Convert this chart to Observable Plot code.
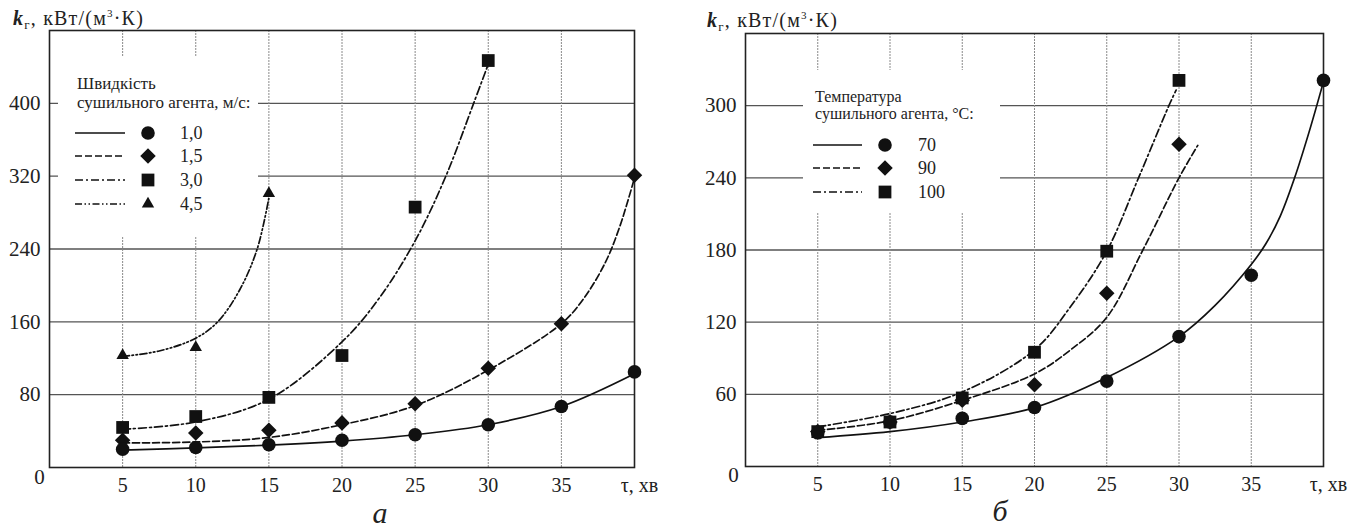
<!DOCTYPE html>
<html><head><meta charset="utf-8">
<script src="https://cdn.jsdelivr.net/npm/d3@7"></script>
<script src="https://cdn.jsdelivr.net/npm/@observablehq/plot@0.6"></script>
<style>
body{margin:0;background:#fff}
#wrap{position:relative;width:1363px;height:531px;overflow:hidden;background:#fff;
  font-family:"Liberation Serif","Tinos","Times New Roman","DejaVu Serif",serif}
#wrap svg, #wrap svg text{font-family:"Liberation Serif","Tinos","Times New Roman","DejaVu Serif",serif !important}
</style>
</head><body><div id="wrap"></div>
<script>
// ---------- data: panel а (speed of drying agent) ----------
const tauA10 = [5, 10, 15, 20, 25, 30, 35, 40];
const kA10   = [20, 22, 25, 30, 36, 47, 67, 105];
const tauA15 = [5, 10, 15, 20, 25, 30, 35, 40];
const kA15   = [30, 38, 41, 49, 70, 109, 158, 321];
const tauA30 = [5, 10, 15, 20, 25, 30];
const kA30   = [44, 56, 77, 123, 286, 447];
const tauA45 = [5, 10, 15];
const kA45   = [123, 132, 301];
// fitted curves
const fitTauA10 = [5, 10, 15, 20, 25, 30, 35, 40];
const fitKA10   = [19, 21.5, 24.5, 29, 36, 47, 67, 103];
const fitTauA15 = [5, 10, 15, 20, 25, 30, 35, 36.5, 38, 39, 40];
const fitKA15   = [27, 28, 33, 47, 68, 107, 158, 185, 225, 265, 318];
const fitTauA30 = [5, 10, 15, 20, 22.5, 25, 27.1, 29, 30];
const fitKA30   = [42, 50, 75, 138, 185, 249, 320, 400, 443];
const fitTauA45 = [5, 7.5, 10, 11.5, 13, 14.2, 15];
const fitKA45   = [122, 128, 142, 160, 195, 240, 296];

// ---------- data: panel б (temperature of drying agent) ----------
const tauB70  = [5, 10, 15, 20, 25, 30, 35, 40];
const kB70    = [28, 37, 40, 49, 71, 108, 159, 321];
const tauB100 = [5, 10, 15, 20, 25, 30];
const kB100   = [29, 37, 57, 95, 179, 321];
const tauB90  = [5, 10, 15, 20, 25, 30];
const kB90    = [29, 37, 55, 68, 144, 268];
const fitTauB70  = [5, 10, 15, 20, 25, 30, 32.5, 35, 36, 37, 38, 39, 40];
const fitKB70    = [24, 29, 37, 49, 74, 108, 134, 168, 185, 208, 240, 278, 320];
const fitTauB90  = [5, 10, 15, 20, 22.5, 25, 27.5, 30, 31.3];
const fitKB90    = [30, 38, 55, 77, 97, 124, 180, 240, 267];
const fitTauB100 = [5, 10, 15, 20, 22.5, 25, 27.2, 29.3, 29.8];
const fitKB100   = [33, 44, 62, 97, 133, 179, 240, 300, 313];

// ---------- ticks & labels ----------
const xTicks  = [5, 10, 15, 20, 25, 30, 35];
const yTicksA = [80, 160, 240, 320, 400];
const yTicksB = [60, 120, 180, 240, 300];
const zeroLabel = "0";
const xAxisLabel = "τ, хв";
const legendTitleA = ["Швидкість", "сушильного агента, м/с:"];
const legendLabelsA = ["1,0", "1,5", "3,0", "4,5"];
const legendTitleB = ["Температура", "сушильного агента, °С:"];
const legendLabelsB = ["70", "90", "100"];
const panelLetters = ["а", "б"];

// ---------- helpers ----------
const FONT = "'Liberation Serif', 'Tinos', 'Times New Roman', 'DejaVu Serif', serif";
const zip = (xs, ys) => xs.map((x, i) => ({x, y: ys[i]}));
const DASH = {solid: null, dash: "7,3", dashdot: "8,3,2,3", dashdotdot: "7,2.5,1.5,2.5,1.5,2.5"};
const SYM = {circle: {r: 6.8, d3: d3.symbolCircle}, diamond2: {r: 7, d3: d3.symbolDiamond2},
             square: {r: 7.2, d3: d3.symbolSquare}, triangle: {r: 4.6, d3: d3.symbolTriangle}};
const INK = "#111";

const seriesA = [
  {pts: zip(tauA15, kA15), fit: zip(fitTauA15, fitKA15), sym: "diamond2", dash: "dash"},
  {pts: zip(tauA10, kA10), fit: zip(fitTauA10, fitKA10), sym: "circle", dash: "solid"},
  {pts: zip(tauA30, kA30), fit: zip(fitTauA30, fitKA30), sym: "square", dash: "dashdot"},
  {pts: zip(tauA45, kA45), fit: zip(fitTauA45, fitKA45), sym: "triangle", dash: "dashdotdot"}
];
const seriesB = [
  {pts: zip(tauB70, kB70), fit: zip(fitTauB70, fitKB70), sym: "circle", dash: "solid"},
  {pts: zip(tauB100, kB100), fit: zip(fitTauB100, fitKB100), sym: "square", dash: "dashdot"},
  {pts: zip(tauB90, kB90), fit: zip(fitTauB90, fitKB90), sym: "diamond2", dash: "dash"}
];

function seriesMarks(series) {
  const m = [];
  for (const s of series) {
    m.push(Plot.line(s.fit, {x: "x", y: "y", curve: "catmull-rom", stroke: INK, strokeWidth: 1.7,
      strokeDasharray: DASH[s.dash]}));
  }
  for (const s of series) {
    m.push(Plot.dot(s.pts, {x: "x", y: "y", symbol: s.sym, r: SYM[s.sym].r, fill: INK, stroke: "none"}));
  }
  return m;
}

function panel({width, margins, yDomain, yTicks, series, zeroDx, zeroDy}) {
  return Plot.plot({
    width, height: 531,
    marginLeft: margins[0], marginRight: margins[1], marginTop: margins[2], marginBottom: margins[3],
    x: {domain: [0, 40]},
    y: {domain: yDomain},
    style: {fontFamily: FONT, fontSize: "20px", color: "#222", background: "transparent"},
    marks: [
      Plot.gridY(yTicks, {stroke: "#555", strokeOpacity: 1, strokeWidth: 1.4}),
      Plot.gridX(xTicks, {stroke: "#8a8a8a", strokeOpacity: 1, strokeWidth: 1, strokeDasharray: "2,1"}),
      Plot.frame({stroke: "#222", strokeWidth: 1.6}),
      Plot.axisY(yTicks, {tickSize: 0, tickPadding: 9, fontSize: 21, label: null}),
      Plot.axisX(xTicks, {tickSize: 0, tickPadding: 10, fontSize: 20, label: null}),
      Plot.text([zeroLabel], {x: () => 0, y: () => 0, text: d => d, dx: zeroDx, dy: zeroDy,
        fontSize: 21, textAnchor: "middle", fill: "#222"}),
      Plot.text([xAxisLabel], {x: () => 40, y: () => 0, text: d => d, dx: 5, dy: 18,
        fontSize: 20, textAnchor: "middle", fill: "#222", letterSpacing: "1px"}),
      ...seriesMarks(series)
    ]
  });
}

const wrap = document.getElementById("wrap");
function place(el, left, top) {
  el.style.position = "absolute"; el.style.left = left + "px"; el.style.top = top + "px";
  wrap.appendChild(el);
}

place(panel({width: 680, margins: [49, 46, 30, 64], yDomain: [0, 480], yTicks: yTicksA,
  series: seriesA, zeroDx: -10, zeroDy: 10}), 0, 0);
place(panel({width: 683, margins: [65, 40, 33, 65], yDomain: [0, 360], yTicks: yTicksB,
  series: seriesB, zeroDx: -12, zeroDy: 9}), 680, 0);

// ---------- overlay: legends, axis titles, panel letters ----------
const ov = d3.create("svg").attr("width", 1363).attr("height", 531)
  .style("position", "absolute").style("left", 0).style("top", 0)
  .style("font-family", FONT).attr("fill", "#222");

function yTitle(x, y) {
  const t = ov.append("text").attr("x", x).attr("y", y).attr("font-size", 20)
    .attr("letter-spacing", "1.2px");
  t.append("tspan").attr("font-style", "italic").attr("font-weight", "bold").text("k");
  t.append("tspan").attr("font-size", 13).attr("dy", 4).text("г");
  t.append("tspan").attr("dy", -4).text(", кВт/(м");
  t.append("tspan").attr("font-size", 11).attr("dy", -8).text("3");
  t.append("tspan").attr("dy", 8).text("·К)");
}
yTitle(13, 25);
yTitle(707, 27);

function legend({box, title, titleX, titleY, labels, syms, dashes, rowY, lineX, symX, labelX, fs, lfs}) {
  ov.append("rect").attr("x", box[0]).attr("y", box[1]).attr("width", box[2] - box[0])
    .attr("height", box[3] - box[1]).attr("fill", "#fff");
  title.forEach((t, i) => ov.append("text").attr("x", titleX).attr("y", titleY[i])
    .attr("font-size", fs).text(t));
  labels.forEach((lab, i) => {
    const y = rowY[i];
    ov.append("line").attr("x1", lineX[0]).attr("x2", lineX[1]).attr("y1", y).attr("y2", y)
      .attr("stroke", INK).attr("stroke-width", 1.7).attr("stroke-dasharray", DASH[dashes[i]]);
    const s = SYM[syms[i]];
    ov.append("path").attr("d", d3.symbol(s.d3, Math.PI * s.r * s.r)())
      .attr("transform", `translate(${symX},${y})`).attr("fill", INK);
    ov.append("text").attr("x", labelX).attr("y", y).attr("dy", "0.35em")
      .attr("font-size", lfs).text(lab);
  });
}

legend({box: [58, 57, 258, 237], title: legendTitleA, titleX: 77, titleY: [89, 108],
  labels: legendLabelsA, syms: ["circle", "diamond2", "square", "triangle"],
  dashes: ["solid", "dash", "dashdot", "dashdotdot"], rowY: [133, 156, 180, 204],
  lineX: [75, 125], symX: 148, labelX: 180, fs: 17, lfs: 18});
legend({box: [803, 70, 1000, 212], title: legendTitleB, titleX: 815, titleY: [102, 119],
  labels: legendLabelsB, syms: ["circle", "diamond2", "square"],
  dashes: ["solid", "dash", "dashdot"], rowY: [145, 168, 192],
  lineX: [813, 862], symX: 885, labelX: 918, fs: 16, lfs: 18});

ov.append("text").attr("x", 380).attr("y", 523).attr("text-anchor", "middle")
  .attr("font-size", 30).attr("font-style", "italic").text(panelLetters[0]);
ov.append("text").attr("x", 1000).attr("y", 521).attr("text-anchor", "middle")
  .attr("font-size", 30).attr("font-style", "italic").text(panelLetters[1]);

wrap.appendChild(ov.node());
</script>
</body></html>
